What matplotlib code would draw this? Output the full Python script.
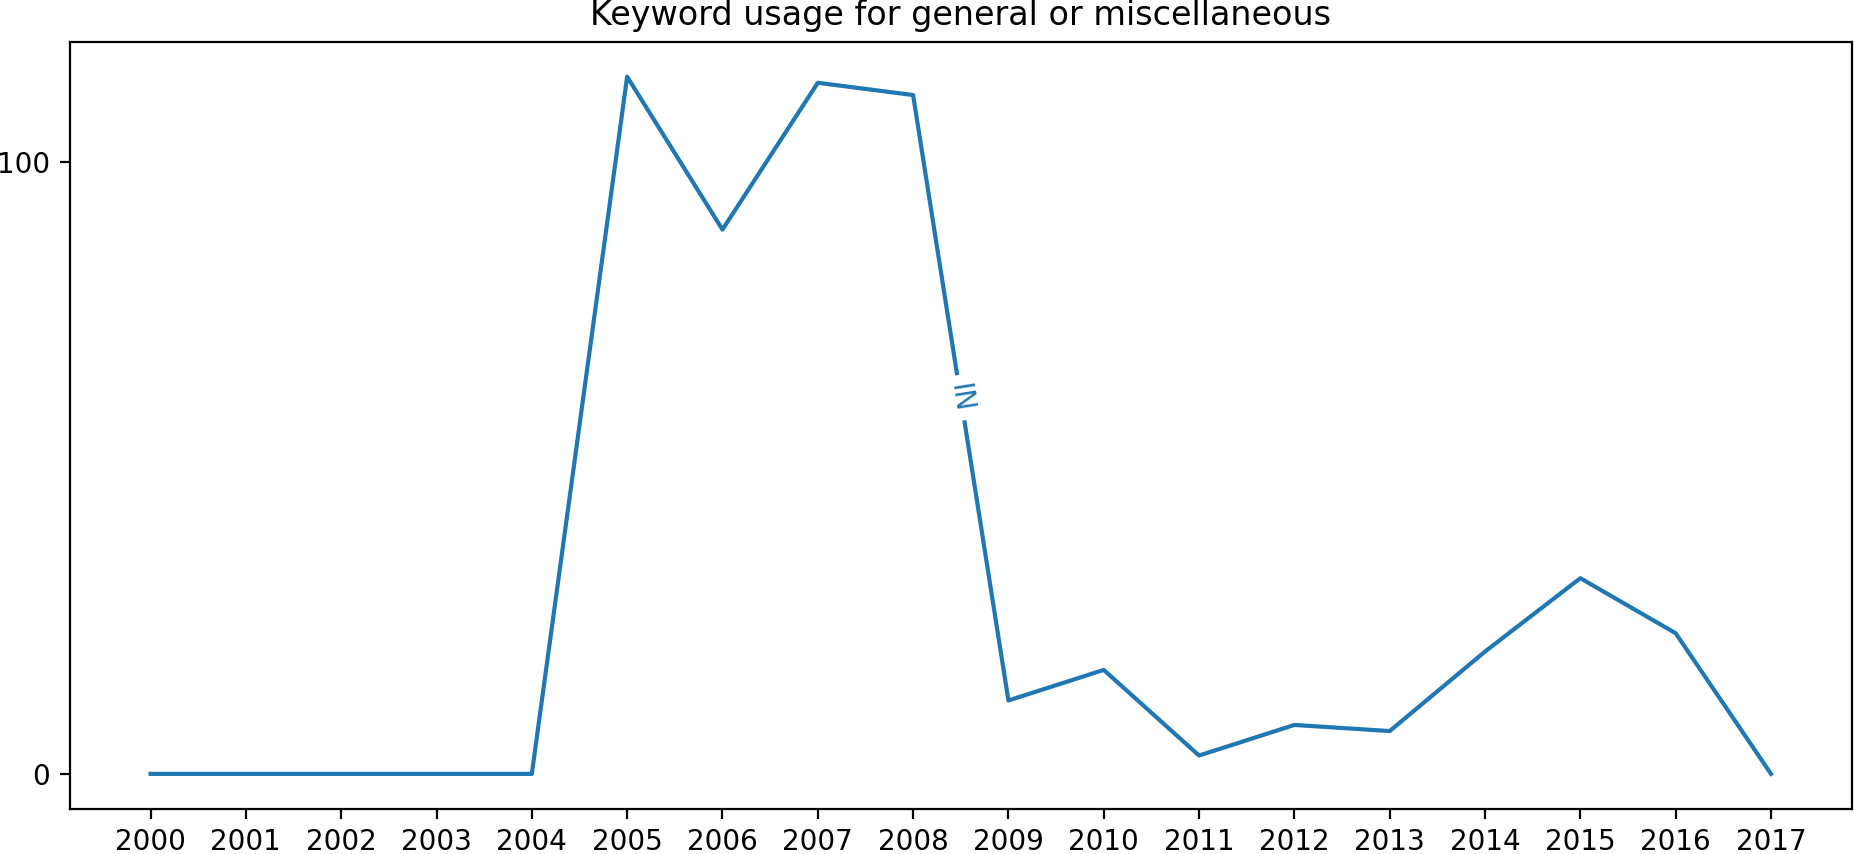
import numpy as np
import matplotlib
matplotlib.use("Agg")
import matplotlib.pyplot as plt

# данные
years = list(range(2000, 2018))
usage = [0, 0, 0, 0, 0, 114, 89, 113, 111, 12, 17, 3, 8, 7, 20, 32, 23, 0]
line_label = "IN"
title = "Keyword usage for general or miscellaneous"

fig = plt.figure(figsize=(9.2701, 4.2701), dpi=200)
ax = fig.add_subplot(111)
fig.subplots_adjust(left=0.0375, right=0.9989, bottom=0.053, top=0.951)

ax.plot(years, usage, color="#1f77b4", linewidth=1.5)
ax.set_xticks(years)
ax.set_yticks([0, 100])
ax.set_title(title)

# подпись прямо на линии, между 2008 и 2009
i = years.index(2008)
x0, x1 = years[i], years[i + 1]
y0, y1 = usage[i], usage[i + 1]
xm, ym = (x0 + x1) / 2, (y0 + y1) / 2
fig.canvas.draw()
p0 = ax.transData.transform((x0, y0))
p1 = ax.transData.transform((x1, y1))
ang = np.degrees(np.arctan2(p1[1] - p0[1], p1[0] - p0[0]))
ax.text(xm, ym, line_label, rotation=ang, rotation_mode="anchor",
        ha="center", va="center", color="#1f77b4", fontsize=10,
        bbox=dict(boxstyle="square,pad=0.3", fc="white", ec="none"))

fig.savefig("out.png", dpi=200)
